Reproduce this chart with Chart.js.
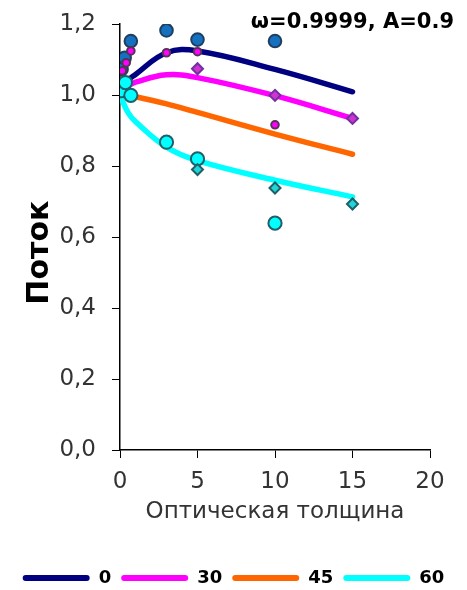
<!DOCTYPE html>
<html>
<head>
<meta charset="utf-8">
<script src="https://cdn.jsdelivr.net/npm/chart.js@4/dist/chart.umd.min.js"></script>
<style>
  html,body{margin:0;padding:0;background:#fff;}
  #wrap{width:467px;height:590px;position:relative;}
</style>
</head>
<body>
<div id="wrap"><canvas id="chart"></canvas></div>
<script>
// --- data ---
// optical depth for the model curves
const tauCurve = [0, 0.5, 1, 3, 5, 10, 15];
const flux0  = [1.0, 1.04, 1.058, 1.119, 1.124, 1.072, 1.009];
const flux30 = [1.0, 1.024, 1.036, 1.057, 1.049, 0.998, 0.934];
const flux45 = [1.0, 0.998, 0.995, 0.975, 0.951, 0.890, 0.833];
const flux60 = [1.0, 0.952, 0.925, 0.853, 0.815, 0.760, 0.713];

// measured points (markers)
const blueTau  = [0.1, 0.3, 0.7, 3, 5, 10];
const blueVal  = [1.072, 1.105, 1.152, 1.182, 1.156, 1.152];
const pinkTau  = [0.15, 0.4, 0.7, 3, 5, 10];
const pinkVal  = [1.068, 1.091, 1.124, 1.119, 1.122, 0.916];
const pinkDiaTau = [5, 10, 15];
const pinkDiaVal = [1.074, 0.999, 0.934];
const cyanTau  = [0.1, 0.35, 0.7, 3, 5, 10];
const cyanVal  = [1.012, 1.035, 0.999, 0.867, 0.820, 0.639];
const cyanDiaTau = [5, 10, 15];
const cyanDiaVal = [0.790, 0.738, 0.693];

const legendNames = ['0', '30', '45', '60'];
const lineColors = ['#000080', '#ff00ff', '#ff6600', '#00ffff'];
const titleText = 'ω=0.9999, A=0.9';

function pts(xs, ys){ return xs.map((x,i)=>({x:x, y:ys[i]})); }

function curve(label, vals, color){
  return {
    label: label, data: pts(tauCurve, vals), showLine: true,
    borderColor: color, backgroundColor: color, borderWidth: 5.5,
    borderCapStyle: 'round', pointRadius: 0, tension: 0.4, order: 10, isCurve: true
  };
}
function markers(xs, ys, style, r, fill, edge){
  return {
    label: '', data: pts(xs, ys), showLine: false, pointStyle: style,
    pointRadius: r, pointBorderWidth: 2, pointBackgroundColor: fill,
    pointBorderColor: edge, order: 1, isCurve: false
  };
}

// draws the parameter label in the top right corner
const cornerTitle = {
  id: 'cornerTitle',
  afterDraw(chart){
    const ctx = chart.ctx;
    ctx.save();
    ctx.font = 'bold 21px "DejaVu Sans"';
    ctx.fillStyle = '#000';
    ctx.textAlign = 'right';
    ctx.textBaseline = 'alphabetic';
    ctx.fillText(titleText, 454, 28);
    ctx.restore();
  }
};

const datasets = [
  curve(legendNames[0], flux0, lineColors[0]),
  curve(legendNames[1], flux30, lineColors[1]),
  curve(legendNames[2], flux45, lineColors[2]),
  curve(legendNames[3], flux60, lineColors[3]),
  markers(cyanDiaTau, cyanDiaVal, 'rectRot', 5.5, '#1fd6d6', '#1f5f6a'),
  markers(cyanTau, cyanVal, 'circle', 6.6, '#00ffff', '#215f6a'),
  markers(pinkDiaTau, pinkDiaVal, 'rectRot', 5.5, '#d133d1', '#7030a0'),
  markers(pinkTau, pinkVal, 'circle', 3.8, '#ff00ff', '#553355'),
  markers(blueTau, blueVal, 'circle', 6.3, '#1570c0', '#1f3f60')
];

new Chart(document.getElementById('chart'), {
  type: 'scatter',
  data: { datasets: datasets },
  options: {
    responsive: true, maintainAspectRatio: false, animation: false,
    layout: { padding: { top: 24, right: 0, left: 0, bottom: -7 } },
    plugins: {
      tooltip: { enabled: false },
      legend: {
        position: 'bottom',
        labels: {
          boxWidth: 67, boxHeight: 6, useBorderRadius: true, borderRadius: 3,
          padding: 10, color: '#000',
          font: { family: '"DejaVu Sans"', size: 18, weight: 'bold' },
          generateLabels: chart => chart.data.datasets
            .map((d, i) => ({ text: d.label, fillStyle: d.borderColor, strokeStyle: d.borderColor,
              lineWidth: 0, hidden: false, datasetIndex: i, borderRadius: 3, fontColor: '#000' }))
            .filter(it => chart.data.datasets[it.datasetIndex].isCurve)
        }
      }
    },
    scales: {
      x: {
        type: 'linear', min: 0, max: 20,
        ticks: { stepSize: 5, color: '#333', padding: 10,
          font: { family: '"DejaVu Sans"', size: 23 } },
        grid: { drawOnChartArea: false, drawTicks: true, tickLength: 8, color: '#000' },
        border: { color: '#000', width: 1.5 },
        title: { display: true, text: 'Оптическая толщина', color: '#333',
          padding: { top: 0, bottom: 33 },
          font: { family: '"DejaVu Sans"', size: 23 } },
        afterFit: s => { s.height = 109; }
      },
      y: {
        min: 0, max: 1.2,
        ticks: { stepSize: 0.2, color: '#333', padding: 16,
          callback: v => v.toFixed(1).replace('.', ','),
          font: { family: '"DejaVu Sans"', size: 23 } },
        grid: { drawOnChartArea: false, drawTicks: true, tickLength: 8, color: '#000' },
        border: { color: '#000', width: 1.5 },
        // trailing spaces push the title a little below the plot centre, as in the original
        title: { display: true, text: 'Поток   ', color: '#000',
          padding: { top: 22, bottom: 0 },
          font: { family: '"DejaVu Sans"', size: 30, weight: 'bold' } },
        afterFit: s => { s.width = 120; s.paddingTop = 0; s.paddingBottom = 0; }
      },
      // empty spacer on the right, keeps room for the last x label
      yRight: {
        position: 'right', display: true,
        ticks: { display: false }, grid: { display: false }, border: { display: false },
        afterFit: s => { s.width = 37; s.paddingTop = 0; s.paddingBottom = 0; }
      }
    }
  },
  plugins: [cornerTitle]
});
</script>
</body>
</html>
